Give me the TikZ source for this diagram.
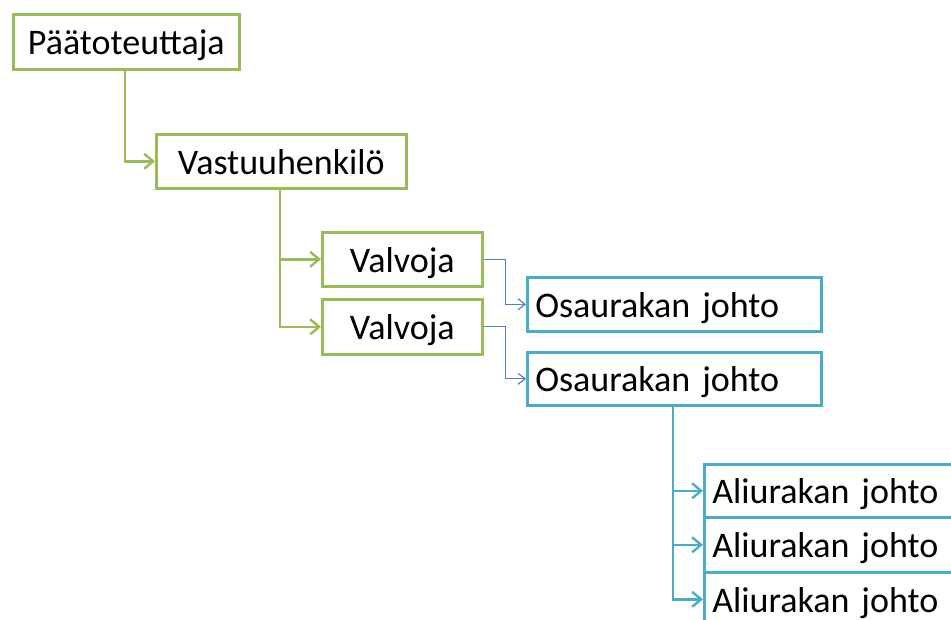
\documentclass[tikz,border=0pt]{standalone}
\usepackage{fontspec}
\setmainfont{Carlito}
\usetikzlibrary{arrows.meta,calc}
\definecolor{leafgreen}{HTML}{9BBB59}
\definecolor{aqua}{HTML}{4BACC6}
\definecolor{linkblue}{HTML}{4F81BD}
\tikzset{
  orgbox/.style={draw, line width=2.6pt, anchor=north west, inner xsep=0pt, inner ysep=0pt,
    font=\fontsize{36}{40}\selectfont, text height=34pt, text depth=8pt, align=center},
  greenbox/.style={orgbox, draw=leafgreen},
  bluebox/.style={orgbox, draw=aqua, align=left},
  greenlink/.style={draw=leafgreen, line width=2.4pt, -{Straight Barb[length=9pt,width=15pt,line width=2.4pt]}},
  thinlink/.style={draw=linkblue, line width=1.2pt, -{Straight Barb[length=7pt,width=11pt,line width=1.2pt]}},
  aqualink/.style={draw=aqua, line width=2.6pt, -{Straight Barb[length=9pt,width=15pt,line width=2.4pt]}}
}
\begin{document}
\begin{tikzpicture}[x=1pt,y=-1pt]
\useasboundingbox (0,0) rectangle (951,619);
\clip (0,0) rectangle (951,619);
\fill[white] (0,0) rectangle (951,619);

% management chain
\node[greenbox, minimum width=226pt, minimum height=55pt, text width=226pt] (p) at (12,13) {Päätoteuttaja};
\node[greenbox, minimum width=250pt, minimum height=54pt, text width=250pt] (v) at (155,133) {Vastuuhenkilö};
\node[greenbox, minimum width=160pt, minimum height=54pt, text width=160pt] (va1) at (321,231) {Valvoja};
\node[greenbox, minimum width=160pt, minimum height=55pt, text width=160pt] (va2) at (321,298) {Valvoja};

% contractor side
\node[bluebox, minimum width=294pt, minimum height=54pt, text width=278pt, inner xsep=8pt] (o1) at (526,276) {Osaurakan johto};
\node[bluebox, minimum width=294pt, minimum height=53pt, text width=278pt, inner xsep=8pt] (o2) at (526,351) {Osaurakan johto};
\node[bluebox, minimum width=300pt, minimum height=53pt, text width=284pt, inner xsep=8pt] (a1) at (703,463) {Aliurakan johto};
\node[bluebox, minimum width=300pt, minimum height=55pt, text width=284pt, inner xsep=8pt] (a2) at (703,516) {Aliurakan johto};
\node[bluebox, minimum width=300pt, minimum height=54pt, text width=284pt, inner xsep=8pt] (a3) at (703,571) {Aliurakan johto};

% connectors
\draw[greenlink] ($(p.south west)+(113,0)$) |- (v.west);
\draw[greenlink] ($(v.south west)+(125,0)$) |- (va1.west);
\draw[greenlink] ($(v.south west)+(125,0)$) |- (va2.west);
\draw[thinlink] (va1.east) -- ++(22,0) |- (o1.west);
\draw[thinlink] (va2.east) -- ++(22,0) |- (o2.west);
\draw[aqualink] ($(o2.south west)+(147,0)$) |- (a1.west);
\draw[aqualink] ($(o2.south west)+(147,0)$) |- (a2.west);
\draw[aqualink] ($(o2.south west)+(147,0)$) |- (a3.west);
\end{tikzpicture}
\end{document}
